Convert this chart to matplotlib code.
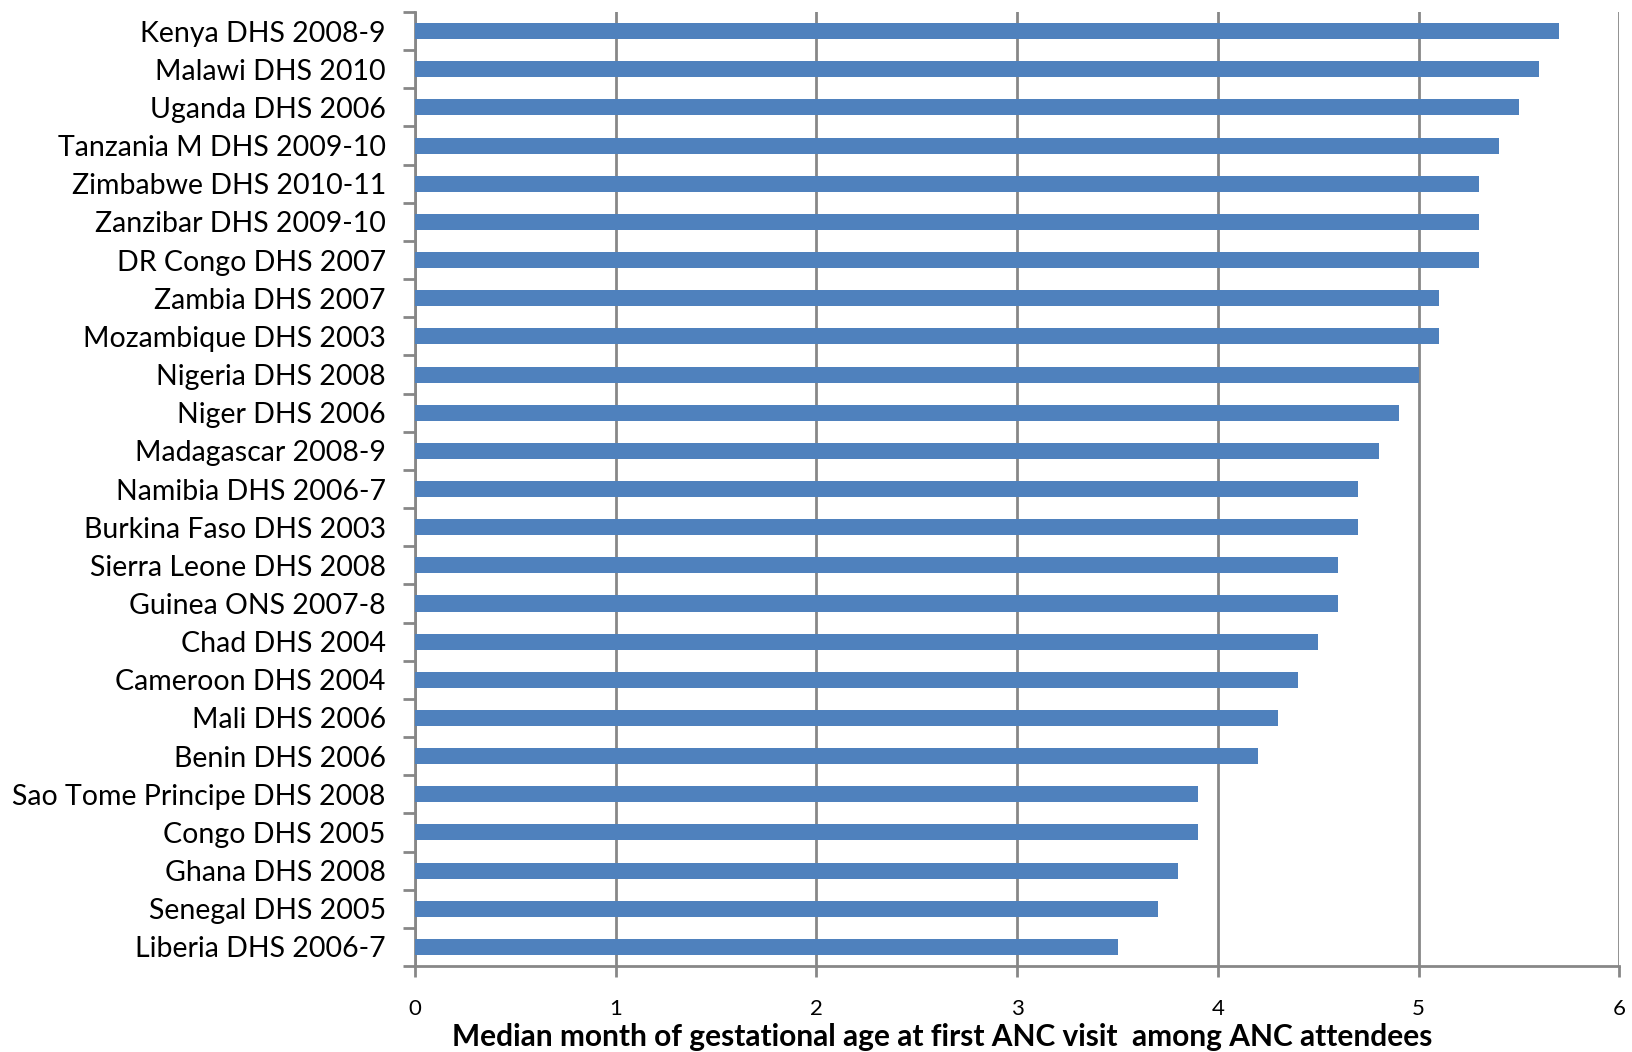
import numpy as np
import matplotlib
matplotlib.use("Agg")
import matplotlib.pyplot as plt

plt.rcParams['font.family'] = ['Lato', 'DejaVu Sans']

# Surveys, listed top to bottom
surveys = [
    "Kenya DHS 2008-9", "Malawi DHS 2010", "Uganda DHS 2006",
    "Tanzania M DHS 2009-10", "Zimbabwe DHS 2010-11", "Zanzibar DHS 2009-10",
    "DR Congo DHS 2007", "Zambia DHS 2007", "Mozambique DHS 2003",
    "Nigeria DHS 2008", "Niger DHS 2006", "Madagascar 2008-9",
    "Namibia DHS 2006-7", "Burkina Faso DHS 2003", "Sierra Leone DHS 2008",
    "Guinea ONS 2007-8", "Chad DHS 2004", "Cameroon DHS 2004",
    "Mali DHS 2006", "Benin DHS 2006", "Sao Tome Principe DHS 2008",
    "Congo DHS 2005", "Ghana DHS 2008", "Senegal DHS 2005",
    "Liberia DHS 2006-7",
]
median_month = [
    5.7, 5.6, 5.5, 5.4, 5.3, 5.3, 5.3, 5.1, 5.1, 5.0, 4.9, 4.8, 4.7,
    4.7, 4.6, 4.6, 4.5, 4.4, 4.3, 4.2, 3.9, 3.9, 3.8, 3.7, 3.5,
]
x_ticks = [0, 1, 2, 3, 4, 5, 6]

grey = "#878787"

fig = plt.figure(figsize=(16.33, 10.52), dpi=100)
ax = fig.add_axes([0.2541, 0.0817, 0.7376, 0.9069])

n = len(surveys)
ypos = np.arange(n)[::-1]
ax.barh(ypos, median_month, height=0.42, color="#4F81BD", zorder=3)

ax.set_xlim(0, 6)
ax.set_ylim(-0.5, n - 0.5)
ax.set_xticks(x_ticks)
ax.set_xticklabels([str(t) for t in x_ticks], fontsize=16)
ax.tick_params(axis="x", direction="out", length=8, width=2, color=grey, pad=16)

# category labels without ticks; boundary ticks via minor locator
ax.set_yticks(ypos)
ax.set_yticklabels(surveys, fontsize=20.5)
ax.tick_params(axis="y", which="major", length=0, pad=21)
ax.set_yticks(np.arange(-0.5, n, 1.0), minor=True)
ax.tick_params(axis="y", which="minor", direction="out", length=9, width=2, color=grey)

ax.grid(axis="x", color=grey, linewidth=2, zorder=0)
for s in ("top", "right"):
    ax.spines[s].set_visible(False)
for s in ("left", "bottom"):
    ax.spines[s].set_color(grey)
    ax.spines[s].set_linewidth(2)

ax.set_xlabel("Median month of gestational age at first ANC visit  among ANC attendees",
              fontsize=21.5, fontweight="bold")
ax.xaxis.label.set_va("center")
ax.xaxis.set_label_coords(0.438, -0.074)

fig.savefig("out.png", dpi=100)
